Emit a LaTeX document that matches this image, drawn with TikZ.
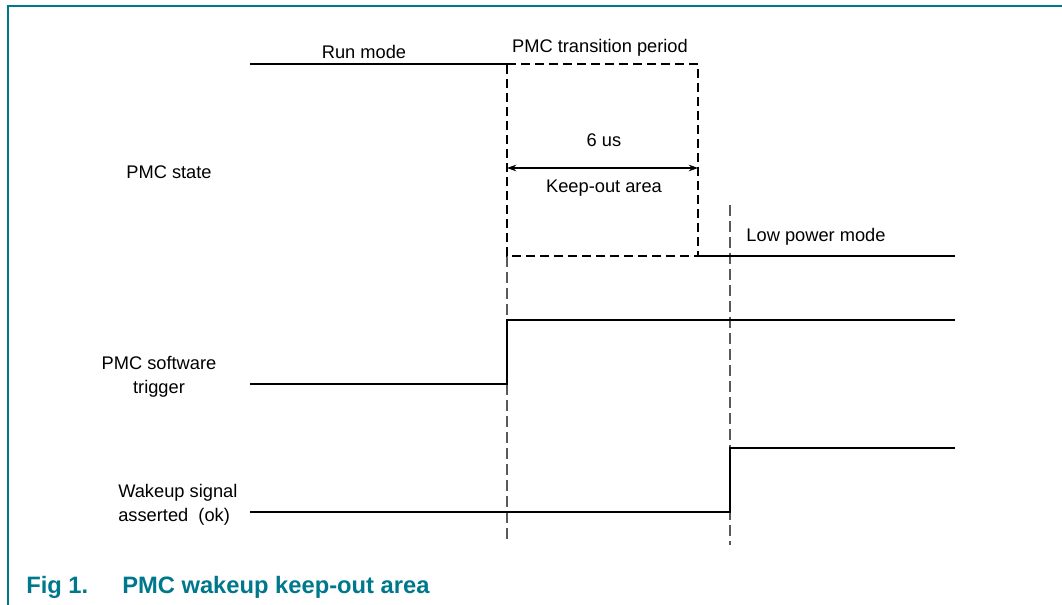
\documentclass[tikz,border=0pt]{standalone}
\usepackage{fontspec}
\setmainfont{Liberation Sans}
\usetikzlibrary{arrows.meta}
\definecolor{nxpteal}{RGB}{0,120,140}
\definecolor{guide}{RGB}{90,90,90}
\begin{document}
\begin{tikzpicture}[x=0.75pt,y=-0.75pt,
  sig/.style={line width=1pt,black},
  boxdash/.style={line width=1.5pt,black,dash pattern=on 6.5pt off 4pt},
  guideline/.style={line width=1pt,guide,dash pattern=on 8pt off 4pt},
  lbl/.style={font=\fontsize{13.7}{18}\selectfont,inner sep=0pt},
  captxt/.style={font=\fontsize{17.8}{21}\selectfont\bfseries,text=nxpteal,inner sep=0pt,anchor=west},
  dimline/.style={line width=0.8pt,{Stealth[length=7pt,width=5pt]}-{Stealth[length=7pt,width=5pt]}}]
\useasboundingbox (0,0) rectangle (1062,605);
% frame
\coordinate (fb) at (8,605);
\coordinate (fc) at (8,6);
\coordinate (fr) at (1062,6);
\draw[nxpteal,line width=1.5pt] (fb) -- (fc) -- (fr);
% key points
\coordinate (r0) at (250,64);
\coordinate (t1) at (507,64);
\coordinate (t2) at (698,64);
\coordinate (b1) at (507,256);
\coordinate (b2) at (698,256);
\coordinate (lp) at (955,256);
\coordinate (g1b) at (507,540);
\coordinate (g2a) at (730,205);
\coordinate (g2b) at (730,545);
\coordinate (s0) at (250,384);
\coordinate (s1) at (507,384);
\coordinate (s2) at (507,320);
\coordinate (s3) at (955,320);
\coordinate (w0) at (250,512);
\coordinate (w1) at (730,512);
\coordinate (w2) at (730,448);
\coordinate (w3) at (955,448);
\coordinate (a1) at (507,168);
\coordinate (a2) at (698,168);
% guide lines
\draw[guideline] (b1) -- (g1b);
\draw[guideline] (g2a) -- (g2b);
% PMC state
\draw[sig] (r0) -- (t1);
\draw[boxdash] (t1) -- (t2) -- (b2) -- (b1) -- cycle;
\draw[sig] (b2) -- (lp);
\draw[dimline] (a1) -- (a2);
% software trigger
\draw[sig] (s0) -- (s1) -- (s2) -- (s3);
% wakeup
\draw[sig] (w0) -- (w1) -- (w2) -- (w3);
% labels
\node[lbl] (runmode) at (364,52) {Run mode};
\node[lbl] (trans) at (600,48) {PMC transition period};
\node[lbl] (sixus) at (604,140) {6 us};
\node[lbl] (keep) at (604,188) {Keep-out area};
\node[lbl] (lowp) at (816,237) {Low power mode};
\node[lbl] (pmcstate) at (169,172) {PMC state};
\node[lbl,align=center] (swtrig) at (159,377) {PMC software\\trigger};
\node[lbl,align=left,anchor=west] (wake) at (118,505) {Wakeup signal\\asserted\ \ (ok)};
% caption
\node[captxt] (fig) at (26,587) {Fig 1.};
\node[captxt] (captitle) at (122,587) {PMC wakeup keep-out area};
\end{tikzpicture}
\end{document}
